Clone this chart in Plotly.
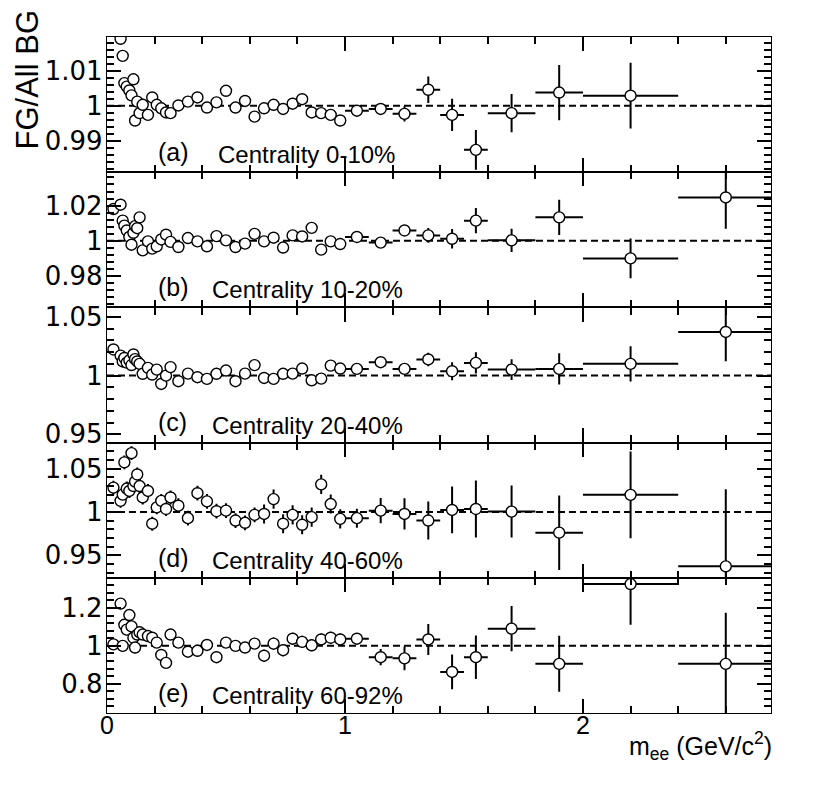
import plotly.graph_objects as go
from plotly.subplots import make_subplots

# ---------------- data ----------------
mass = [0.027,
        0.057, 0.066, 0.073, 0.083, 0.094, 0.103, 0.111, 0.118, 0.127, 0.137,
        0.150, 0.172, 0.190, 0.209, 0.228, 0.248, 0.267,
        0.30, 0.34, 0.38, 0.42, 0.46, 0.50, 0.54, 0.58, 0.62, 0.66, 0.70, 0.74,
        0.78, 0.82, 0.86, 0.90, 0.94, 0.98,
        1.05, 1.15, 1.25, 1.35, 1.45, 1.55,
        1.70, 1.90, 2.20, 2.60]
mass_halfwidth = ([0.005] * 11 + [0.01] * 7 + [0.02] * 18 + [0.05] * 6 +
                  [0.1, 0.1, 0.2, 0.2])

ratio_a = [None,
           1.0192, 1.0143, 1.0065, 1.0055, 1.0044, 1.0030, 1.0076, 0.9958, 1.0012, 0.9979,
           1.0003, 0.9974, 1.0024, 1.0003, 0.9993, 0.9981, 0.9979,
           1.0001, 1.0012, 1.0024, 0.9995, 1.0010, 1.0043, 0.9995, 1.0014, 0.9969, 0.9993,
           1.0003, 0.9991, 1.0006, 1.0019, 0.9981, 0.9979, 0.9974, 0.9958,
           0.9986, 0.9991, 0.9977, 1.0046, 0.9974, 0.9874,
           0.9979, 1.0038, 1.0029, None]
err_a = ([0] + [0.0009] * 10 + [0.0008] * 7 +
         [0.0008, 0.0008, 0.0008, 0.0008, 0.0009, 0.0009, 0.0009, 0.0009, 0.0009,
          0.0010, 0.0010, 0.0010, 0.0010, 0.0011, 0.0011, 0.0011, 0.0012, 0.0012] +
         [0.0013, 0.0017, 0.0022, 0.0038, 0.0046, 0.0057] +
         [0.0055, 0.0079, 0.0094, 0])

ratio_b = [1.0180,
           1.0205, 1.0114, 1.0086, 1.0058, 1.0021, 0.9977, 1.0045, 1.0083, 1.0071, 1.0133,
           0.9945, 0.9996, 0.9955, 0.9968, 1.0007, 1.0034, 0.9993,
           0.9964, 1.0015, 0.9996, 0.9968, 1.0026, 1.0002, 0.9964, 0.9983, 1.0039, 0.9996,
           1.0017, 0.9961, 1.0030, 1.0024, 1.0073, 0.9949, 0.9996, 0.9981,
           1.0021, 0.9989, 1.0058, 1.0030, 1.0011, 1.0114,
           1.0002, 1.0133, 0.9899, 1.0246]
err_b = ([0.0015] * 11 + [0.0015] * 7 + [0.0015] * 9 + [0.0018] * 9 +
         [0.0020, 0.0022, 0.0025, 0.0042, 0.0056, 0.0072] +
         [0.0066, 0.0100, 0.0113, 0.0178])

ratio_c = [1.0222,
           1.0170, 1.0120, 1.0150, 1.0110, 1.0130, 1.0090, 1.0180, 1.0140, 1.0120, 1.0100,
           1.0015, 1.0066, 1.0009, 1.0051, 0.9929, 1.0000, 1.0072,
           0.9952, 1.0017, 0.9986, 0.9972, 1.0015, 1.0043, 0.9952, 1.0017, 1.0089, 0.9980,
           0.9972, 1.0015, 1.0017, 1.0060, 0.9960, 0.9974, 1.0085, 1.0060,
           1.0057, 1.0114, 1.0057, 1.0137, 1.0037, 1.0108,
           1.0051, 1.0057, 1.0100, 1.0371]
err_c = ([0.0022] * 11 + [0.0022] * 7 + [0.0025] * 9 + [0.0029] * 9 +
         [0.0034, 0.0035, 0.0040, 0.0057, 0.0077, 0.0090] +
         [0.0088, 0.0132, 0.0150, 0.0250])

ratio_d = [1.0281,
           1.0128, 1.0200, 1.0572, 1.0270, 1.0242, 1.0678, 1.0299, 1.0350, 1.0432, 1.0299,
           1.0167, 1.0242, 0.9864, 1.0053, 1.0128, 1.0034, 1.0167,
           1.0072, 0.9928, 1.0216, 1.0122, 1.0008, 1.0015, 0.9901, 0.9875, 0.9966, 0.9977,
           1.0148, 0.9864, 0.9966, 0.9852, 0.9940, 1.0318, 1.0091, 0.9920,
           0.9928, 1.0015, 0.9977, 0.9901, 1.0023, 1.0034,
           1.0004, 0.9761, 1.0197, 0.9372]
err_d = ([0.0080] * 11 + [0.0080] * 7 + [0.0085] * 9 + [0.0110] * 9 +
         [0.0110, 0.0146, 0.0180, 0.0220, 0.0270, 0.0330] +
         [0.0300, 0.0430, 0.0500, 0.0890])

ratio_e = [1.008,
           1.2235, 1.000, 1.1115, 1.086, 1.163, 1.103, 1.043, 0.991, 1.060, 1.072,
           1.060, 1.052, 1.043, 1.017, 0.952, 0.910, 1.060,
           1.017, 0.969, 0.974, 1.005, 0.940, 1.017, 1.000, 0.991, 1.012, 0.948,
           1.012, 0.977, 1.038, 1.021, 1.003, 1.034, 1.043, 1.034,
           1.038, 0.940, 0.934, 1.034, 0.862, 0.940,
           1.091, 0.905, 1.327, 0.905]
err_e = ([0.030] * 11 + [0.028] * 7 + [0.025] * 9 + [0.032] * 9 +
         [0.030, 0.043, 0.063, 0.082, 0.092, 0.115] +
         [0.120, 0.148, 0.215, 0.270])

panel_tags = ["(a)", "(b)", "(c)", "(d)", "(e)"]
centralities = ["Centrality 0-10%", "Centrality 10-20%", "Centrality 20-40%",
                "Centrality 40-60%", "Centrality 60-92%"]

y_ranges = [[0.981, 1.0197], [0.962, 1.039], [0.943, 1.058], [0.924, 1.080], [0.645, 1.360]]
y_tickvals = [[0.99, 1.0, 1.01], [0.98, 1.0, 1.02], [0.95, 1.0, 1.05],
              [0.95, 1.0, 1.05], [0.8, 1.0, 1.2]]
y_ticktext = [["0.99", "1", "1.01"], ["0.98", "1", "1.02"], ["0.95", "1", "1.05"],
              ["0.95", "1", "1.05"], ["0.8", "1", "1.2"]]
y_minor = [0.002, 0.004, 0.01, 0.01, 0.04]

x_tickvals = [0, 1, 2]
x_ticktext = ["0", "1", "2"]

series = [(ratio_a, err_a), (ratio_b, err_b), (ratio_c, err_c),
          (ratio_d, err_d), (ratio_e, err_e)]

# ---------------- figure ----------------
FONT = "Liberation Sans, Arial, Helvetica, sans-serif"
YTICKFONT = dict(family="DejaVu Sans, Liberation Sans, sans-serif", size=26, color="black")
XTICKFONT = dict(family=FONT, size=25, color="black")

fig = make_subplots(rows=5, cols=1, shared_xaxes=True, vertical_spacing=0)

XMAX = 2.79
for i, (yv, ev) in enumerate(series):
    r = i + 1
    fig.add_trace(go.Scatter(
        x=mass, y=yv, mode="markers",
        marker=dict(symbol="circle", size=11, color="white",
                    line=dict(color="black", width=1.4)),
        error_y=dict(type="data", array=ev, color="black", thickness=2, width=0),
        error_x=dict(type="data", array=mass_halfwidth, color="black", thickness=2, width=0),
        showlegend=False), row=r, col=1)
    fig.add_shape(type="line", x0=0, x1=XMAX, y0=1, y1=1, layer="below",
                  line=dict(color="black", width=2, dash="7px,4px"), row=r, col=1)
    xa = "x" if r == 1 else f"x{r}"
    ya = "y" if r == 1 else f"y{r}"
    fig.add_annotation(text=panel_tags[i], x=0.205, y=0.15, xref=xa,
                       yref=f"{ya} domain", xanchor="left", yanchor="middle",
                       showarrow=False, font=dict(family=FONT, size=25, color="black"))
    fig.add_annotation(text=centralities[i], x=(0.46 if i == 0 else 0.433), y=0.13,
                       xref=xa, yref=f"{ya} domain", xanchor="left", yanchor="middle",
                       showarrow=False, font=dict(family=FONT, size=24, color="black"))
    fig.update_yaxes(range=y_ranges[i], tickmode="array", tickvals=y_tickvals[i],
                     ticktext=y_ticktext[i], ticks="inside", ticklen=14, tickwidth=2.2,
                     tickcolor="black",
                     minor=dict(tickmode="linear", tick0=0, dtick=y_minor[i],
                                ticks="inside", ticklen=7, tickwidth=1.8, tickcolor="black"),
                     showline=True, linecolor="black", linewidth=1.4, mirror="allticks",
                     showgrid=False, zeroline=False, tickfont=YTICKFONT, automargin=False,
                     ticklabelstandoff=-2,
                     row=r, col=1)
    fig.update_xaxes(range=[0, XMAX], tickmode="array", tickvals=x_tickvals,
                     ticktext=x_ticktext, ticks="inside", ticklen=14, tickwidth=2.2,
                     tickcolor="black",
                     minor=dict(tickmode="linear", tick0=0, dtick=0.2, ticks="inside",
                                ticklen=7, tickwidth=1.8, tickcolor="black"),
                     showline=True, linecolor="black", linewidth=1.4, mirror="allticks",
                     showgrid=False, zeroline=False, tickfont=XTICKFONT, automargin=False,
                     ticklabelstandoff=-10,
                     showticklabels=(r == 5), row=r, col=1)

# page body adds an 8px offset: margins chosen so the frame lands where the reference has it
L, R, T, B = 99, 67, 29, 92
W, H = 830, 797
pw, ph = W - L - R, H - T - B

fig.add_annotation(text="FG/All BG", xref="paper", yref="paper",
                   x=(0 - L) / pw, y=1 + (T - 0) / ph, xanchor="left", yanchor="top",
                   textangle=-90, showarrow=False,
                   font=dict(family=FONT, size=31, color="black"))
fig.add_annotation(text="m<sub>ee</sub> (GeV/c<sup>2</sup>)", xref="paper", yref="paper",
                   x=(766 - L) / pw, y=-(738 - (H - B)) / ph, xanchor="right", yanchor="middle",
                   showarrow=False, font=dict(family=FONT, size=25, color="black"))

fig.update_layout(width=W, height=H, margin=dict(l=L, r=R, t=T, b=B),
                  paper_bgcolor="white", plot_bgcolor="white")

fig.write_html("out.html")
